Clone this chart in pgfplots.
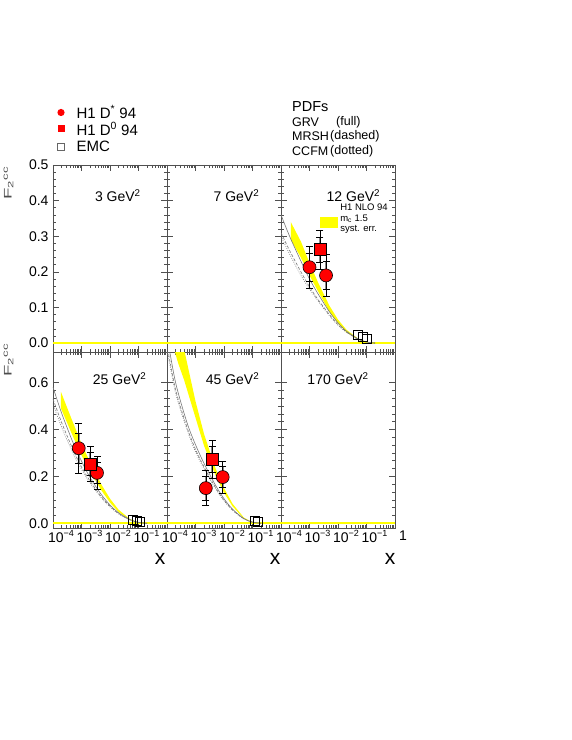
\documentclass[border=0pt]{standalone}
\usepackage{pgfplots}
\pgfplotsset{compat=1.18}
\usepackage{fontspec}
\setmainfont{Liberation Sans}
\newcommand{\ten}[1]{10\raisebox{0.42em}{\fontsize{9bp}{9bp}\selectfont −#1}}
\newcommand{\fs}[1]{\fontsize{#1}{#1}\selectfont}
\definecolor{band}{RGB}{255,255,0}
\definecolor{crv}{RGB}{120,120,120}
\definecolor{frm}{RGB}{80,80,80}
\pgfplotsset{
 mypnl/.style={scale only axis, width=114bp, xmin=1e-4, xmax=1,
   axis line style={frm, line width=0.6bp},
   tick align=inside, tick style={frm, line width=0.5bp},
   major tick length=6bp, minor tick length=3bp,
   xtick={1e-4,1e-3,1e-2,1e-1,1},
   minor xtick={2e-4,3e-4,4e-4,5e-4,6e-4,7e-4,8e-4,9e-4,2e-3,3e-3,4e-3,5e-3,6e-3,7e-3,8e-3,9e-3,2e-2,3e-2,4e-2,5e-2,6e-2,7e-2,8e-2,9e-2,0.2,0.3,0.4,0.5,0.6,0.7,0.8,0.9},
   ticklabel style={font=\fs{14bp}},
   xticklabel style={anchor=north, xshift=8bp, yshift=1bp},
   yticklabel style={xshift=-1bp},
   yticklabels={}, xticklabels={},
 },
 mytop/.style={height=187bp, ymin=-0.025, ymax=0.5, ytick={0,0.1,0.2,0.3,0.4,0.5}, minor y tick num=4},
 mybot/.style={height=176bp, ymin=-0.02, ymax=0.73, ytick={0,0.2,0.4,0.6}, minor y tick num=5},
 zeroline/.style={band, line width=2bp, forget plot},
 grv/.style={crv, line width=0.6bp, smooth},
 mrsh/.style={crv, line width=0.6bp, smooth, dash pattern=on 3bp off 1.8bp},
 ccfm/.style={crv, line width=0.6bp, smooth, dash pattern=on 0.8bp off 1.4bp},
 errstat/.style={forget plot, draw=none, mark=none, error bars/.cd, y dir=both, y explicit,
   error bar style={draw=black!45, line width=1.8bp, solid}, error mark=none},
 errtot/.style={forget plot, draw=none, mark=none, error bars/.cd, y dir=both, y explicit,
   error bar style={draw=black, line width=0.5bp, solid}, error mark=none},
 errtick/.style={forget plot, only marks, mark=-, mark size=3.5bp, mark options={draw=black, line width=0.5bp}},
 dstar/.style={only marks, mark=*, mark size=6.5bp, mark options={fill=red, draw=black, line width=0.6bp}},
 dzero/.style={only marks, mark=square*, mark size=6bp, mark options={fill=red, draw=black, line width=0.6bp}},
 emc/.style={only marks, mark=square, mark size=4.5bp, mark options={draw=black, line width=0.6bp}},
}
\begin{document}
\begin{tikzpicture}[x=1bp,y=1bp]
\path[use as bounding box] (0,0) rectangle (572,740);

% ---------------- top row ----------------
\begin{semilogxaxis}[mypnl, mytop, at={(53bp,388bp)}, anchor=south west,
  yticklabels={0.0,0.1,0.2,0.3,0.4,0.5}]
\addplot[zeroline] coordinates {(1e-4,0) (1,0)};
\node[anchor=east, font=\fs{14bp}] at (rel axis cs:0.80,0.834) {3 GeV\textsuperscript{2}};
\end{semilogxaxis}

\begin{semilogxaxis}[mypnl, mytop, at={(167bp,388bp)}, anchor=south west]
\addplot[zeroline] coordinates {(1e-4,0) (1,0)};
\node[anchor=east, font=\fs{14bp}] at (rel axis cs:0.84,0.834) {7 GeV\textsuperscript{2}};
\end{semilogxaxis}

\begin{semilogxaxis}[mypnl, mytop, at={(281bp,388bp)}, anchor=south west]
\addplot[fill=band, draw=none, forget plot] coordinates {
 (2.2e-4,0.34) (5e-4,0.285) (1e-3,0.225) (2e-3,0.17) (5e-3,0.105) (1e-2,0.066) (2e-2,0.037) (5e-2,0.013) (0.1,0.003) (0.15,0)
 (0.1,0.002) (5e-2,0.010) (2e-2,0.030) (1e-2,0.055) (5e-3,0.088) (2e-3,0.145) (1e-3,0.19) (5e-4,0.24) (2.2e-4,0.29)} -- cycle;
\addplot[zeroline] coordinates {(1e-4,0) (1,0)};
\addplot[grv] coordinates {(1e-4,0.36) (2e-4,0.30) (5e-4,0.23) (1e-3,0.18) (2e-3,0.138) (5e-3,0.088) (1e-2,0.057) (2e-2,0.033) (5e-2,0.012) (0.1,0.003) (0.2,0)};
\addplot[mrsh] coordinates {(1e-4,0.31) (2e-4,0.26) (5e-4,0.20) (1e-3,0.158) (2e-3,0.122) (5e-3,0.08) (1e-2,0.052) (2e-2,0.031) (5e-2,0.011) (0.1,0.003) (0.2,0)};
\addplot[ccfm] coordinates {(1e-4,0.30) (2e-4,0.25) (5e-4,0.19) (1e-3,0.152) (2e-3,0.118) (5e-3,0.077) (1e-2,0.05) (2e-2,0.03) (5e-2,0.011) (0.1,0.003) (0.2,0)};
\addplot[errstat] coordinates {(1e-3,0.213) +- (0,0.04) (2.3e-3,0.262) +- (0,0.035) (3.8e-3,0.19) +- (0,0.04)};
\addplot[errtot] coordinates {(1e-3,0.213) +- (0,0.06) (2.3e-3,0.262) +- (0,0.055) (3.8e-3,0.19) +- (0,0.058)};
\addplot[errtick] coordinates {(1e-3,0.253) (1e-3,0.173) (1e-3,0.273) (1e-3,0.153)
 (2.3e-3,0.297) (2.3e-3,0.227) (2.3e-3,0.317) (2.3e-3,0.207)
 (3.8e-3,0.23) (3.8e-3,0.15) (3.8e-3,0.248) (3.8e-3,0.132)};
\addplot[dstar] coordinates {(1e-3,0.213) (3.8e-3,0.19)};
\addplot[dzero] coordinates {(2.3e-3,0.262)};
\addplot[emc] coordinates {(0.05,0.022) (0.076,0.017) (0.105,0.011)};
\node[anchor=east, font=\fs{14bp}] at (rel axis cs:0.90,0.834) {12 GeV\textsuperscript{2}};
\fill[band] (rel axis cs:0.342,0.663) rectangle (rel axis cs:0.50,0.724);
\node[anchor=west, font=\fontsize{9.5bp}{10.5bp}\selectfont, align=left, inner sep=0pt] at (rel axis cs:0.518,0.711)
  {H1 NLO 94\\m\textsubscript{c} 1.5\\syst. err.};
\end{semilogxaxis}

% ---------------- bottom row ----------------
\begin{semilogxaxis}[mypnl, mybot, at={(53bp,212bp)}, anchor=south west,
  yticklabels={0.0,0.2,0.4,0.6},
  xticklabels={\ten{4},\ten{3},\ten{2},\ten{1},{}}]
\addplot[fill=band, draw=none, forget plot] coordinates {
 (1.9e-4,0.56) (5e-4,0.43) (1e-3,0.34) (2e-3,0.26) (5e-3,0.165) (1e-2,0.105) (2e-2,0.058) (5e-2,0.018) (0.1,0.004) (0.15,0)
 (0.1,0.003) (5e-2,0.014) (2e-2,0.048) (1e-2,0.088) (5e-3,0.14) (2e-3,0.22) (1e-3,0.29) (5e-4,0.37) (1.9e-4,0.49)} -- cycle;
\addplot[zeroline] coordinates {(1e-4,0) (1,0)};
\addplot[grv] coordinates {(1e-4,0.58) (2e-4,0.47) (5e-4,0.345) (1e-3,0.265) (2e-3,0.195) (5e-3,0.122) (1e-2,0.078) (2e-2,0.045) (5e-2,0.016) (0.1,0.004) (0.2,0)};
\addplot[mrsh] coordinates {(1e-4,0.53) (2e-4,0.43) (5e-4,0.315) (1e-3,0.24) (2e-3,0.18) (5e-3,0.113) (1e-2,0.073) (2e-2,0.042) (5e-2,0.015) (0.1,0.004) (0.2,0)};
\addplot[ccfm] coordinates {(1e-4,0.51) (2e-4,0.41) (5e-4,0.30) (1e-3,0.23) (2e-3,0.172) (5e-3,0.108) (1e-2,0.07) (2e-2,0.04) (5e-2,0.014) (0.1,0.004) (0.2,0)};
\addplot[errstat] coordinates {(8e-4,0.32) +- (0,0.065) (2e-3,0.253) +- (0,0.05) (3.5e-3,0.215) +- (0,0.045)};
\addplot[errtot] coordinates {(8e-4,0.32) +- (0,0.105) (2e-3,0.253) +- (0,0.075) (3.5e-3,0.215) +- (0,0.07)};
\addplot[errtick] coordinates {(8e-4,0.385) (8e-4,0.255) (8e-4,0.425) (8e-4,0.215)
 (2e-3,0.303) (2e-3,0.203) (2e-3,0.328) (2e-3,0.178)
 (3.5e-3,0.26) (3.5e-3,0.17) (3.5e-3,0.285) (3.5e-3,0.145)};
\addplot[dstar] coordinates {(8e-4,0.32) (3.5e-3,0.215)};
\addplot[dzero] coordinates {(2e-3,0.253)};
\addplot[emc] coordinates {(0.064,0.017) (0.09,0.01) (0.11,0.005)};
\node[anchor=east, font=\fs{14bp}] at (rel axis cs:0.85,0.85) {25 GeV\textsuperscript{2}};
\end{semilogxaxis}

\begin{semilogxaxis}[mypnl, mybot, at={(167bp,212bp)}, anchor=south west,
  xticklabels={\ten{4},\ten{3},\ten{2},\ten{1},{}}]
\addplot[fill=band, draw=none, forget plot] coordinates {
 (1.6e-4,1.0) (2.5e-4,0.88) (4e-4,0.74) (1e-3,0.52) (2e-3,0.38) (5e-3,0.235) (1e-2,0.15) (2e-2,0.083) (5e-2,0.024) (0.1,0.005) (0.15,0)
 (0.1,0.004) (5e-2,0.02) (2e-2,0.072) (1e-2,0.13) (5e-3,0.205) (2e-3,0.33) (1e-3,0.45) (4e-4,0.61) (2.5e-4,0.68) (1.6e-4,0.76)} -- cycle;
\addplot[zeroline] coordinates {(1e-4,0) (1,0)};
\addplot[grv] coordinates {(1e-4,0.80) (2e-4,0.60) (5e-4,0.43) (1e-3,0.335) (2e-3,0.255) (5e-3,0.163) (1e-2,0.105) (2e-2,0.06) (5e-2,0.02) (0.1,0.005) (0.2,0)};
\addplot[mrsh] coordinates {(1e-4,0.76) (2e-4,0.57) (5e-4,0.41) (1e-3,0.315) (2e-3,0.24) (5e-3,0.153) (1e-2,0.099) (2e-2,0.057) (5e-2,0.019) (0.1,0.005) (0.2,0)};
\addplot[ccfm] coordinates {(1e-4,0.74) (2e-4,0.555) (5e-4,0.40) (1e-3,0.305) (2e-3,0.232) (5e-3,0.148) (1e-2,0.096) (2e-2,0.055) (5e-2,0.018) (0.1,0.005) (0.2,0)};
\addplot[errstat] coordinates {(2.3e-3,0.15) +- (0,0.05) (3.8e-3,0.274) +- (0,0.055) (9e-3,0.197) +- (0,0.045)};
\addplot[errtot] coordinates {(2.3e-3,0.15) +- (0,0.075) (3.8e-3,0.274) +- (0,0.08) (9e-3,0.197) +- (0,0.069)};
\addplot[errtick] coordinates {(2.3e-3,0.2) (2.3e-3,0.1) (2.3e-3,0.225) (2.3e-3,0.075)
 (3.8e-3,0.329) (3.8e-3,0.219) (3.8e-3,0.354) (3.8e-3,0.194)
 (9e-3,0.242) (9e-3,0.152) (9e-3,0.266) (9e-3,0.128)};
\addplot[dstar] coordinates {(2.3e-3,0.15) (9e-3,0.197)};
\addplot[dzero] coordinates {(3.8e-3,0.274)};
\addplot[emc] coordinates {(0.12,0.012) (0.15,0.008)};
\node[anchor=east, font=\fs{14bp}] at (rel axis cs:0.84,0.85) {45 GeV\textsuperscript{2}};
\end{semilogxaxis}

\begin{semilogxaxis}[mypnl, mybot, at={(281bp,212bp)}, anchor=south west,
  xticklabels={\ten{4},\ten{3},\ten{2},\ten{1},1}]
\addplot[zeroline] coordinates {(1e-4,0) (1,0)};
\node[anchor=east, font=\fs{14bp}] at (rel axis cs:0.80,0.85) {170 GeV\textsuperscript{2}};
\end{semilogxaxis}

% ---------------- axis titles ----------------
\foreach \yy in {557,380} {\node[rotate=90, xscale=1.7, font=\fs{11bp}, text=black!70, inner sep=0pt] at (8.5,\yy) {F\textsubscript{2}\textsuperscript{cc}};}
\foreach \xx in {160,275,390} {\node[font=\fs{21bp}] at (\xx,181) {x};}

% ---------------- legends ----------------
\begin{scope}[font=\fs{15bp}]
\fill[red] (61,627.5) circle (3.6);
\fill[red] (57.5,607.5) rectangle (64.5,614.5);
\draw[black!60, line width=0.5bp] (57.5,590) rectangle (64.5,597);
\node[anchor=west] at (73,628) {H1 D\textsuperscript{*} 94};
\node[anchor=west] at (73,611) {H1 D\textsuperscript{0} 94};
\node[anchor=west] at (73,594) {EMC};
\end{scope}
\node[anchor=west, font=\fs{14.5bp}, inner sep=0pt] at (292,633) {PDFs};
\begin{scope}[font=\fs{12.5bp}]
\node[anchor=west, inner sep=0pt] at (292,618) {GRV};
\node[anchor=west, inner sep=0pt] at (336,618) {(full)};
\node[anchor=west, inner sep=0pt] at (292,604) {MRSH};
\node[anchor=west, inner sep=0pt] at (330,604) {(dashed)};
\node[anchor=west, inner sep=0pt] at (292,589) {CCFM};
\node[anchor=west, inner sep=0pt] at (330,589) {(dotted)};
\end{scope}
\end{tikzpicture}
\end{document}
